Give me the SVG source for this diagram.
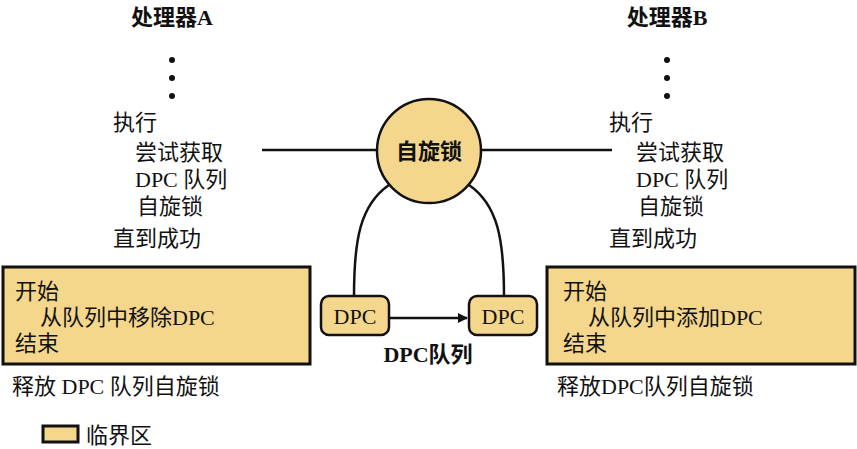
<svg xmlns="http://www.w3.org/2000/svg" width="857" height="449" viewBox="0 0 857 449">
<defs>
<style>
text{font-family:"Liberation Serif","Noto Sans CJK SC",serif;font-size:22px;fill:#111}
.b{font-weight:bold}
.fill{fill:#F4D68C;stroke:#111}
.ln{stroke:#111;stroke-width:2.5;fill:none}
</style>
<marker id="ah" markerWidth="10" markerHeight="10" refX="9" refY="5" orient="auto" markerUnits="userSpaceOnUse">
<path d="M0,0 L10,5 L0,10 z" fill="#111"/>
</marker>
</defs>
<rect width="857" height="449" fill="#fff"/>
<g id="procA">
<text class="b" x="172" y="25" text-anchor="middle" font-size="21">处理器A</text>
<circle cx="172" cy="60" r="3" fill="#111"/><circle cx="172" cy="78" r="3" fill="#111"/><circle cx="172" cy="96" r="3" fill="#111"/>
<text x="113" y="130">执行</text>
<text x="135" y="160">尝试获取</text>
<text x="135" y="187">DPC 队列</text>
<text x="137" y="214">自旋锁</text>
<text x="113" y="246">直到成功</text>
</g>
<g id="procB">
<text class="b" x="667" y="25" text-anchor="middle" font-size="21">处理器B</text>
<circle cx="667" cy="60" r="3" fill="#111"/><circle cx="667" cy="78" r="3" fill="#111"/><circle cx="667" cy="96" r="3" fill="#111"/>
<text x="609" y="130">执行</text>
<text x="636" y="160">尝试获取</text>
<text x="636" y="187">DPC 队列</text>
<text x="638" y="214">自旋锁</text>
<text x="609" y="246">直到成功</text>
</g>
<g id="connectors">
<line class="ln" x1="262" y1="150" x2="377" y2="150"/>
<line class="ln" x1="481" y1="150" x2="612" y2="150"/>
<path class="ln" d="M389,185 C360,205 354,240 354,296"/>
<path class="ln" d="M469,185 C498,205 504,240 504,296"/>
<line class="ln" x1="389" y1="318" x2="467" y2="318" marker-end="url(#ah)"/>
</g>
<g id="spinlock">
<circle class="fill" cx="429" cy="151" r="52" stroke-width="2.5"/>
<text class="b" x="429" y="159" text-anchor="middle" font-size="22">自旋锁</text>
</g>
<g id="dpc1">
<rect class="fill" x="321" y="296" width="68" height="39" rx="8" stroke-width="2.5"/>
<text x="355" y="324" text-anchor="middle" font-size="21">DPC</text>
</g>
<g id="dpc2">
<rect class="fill" x="469" y="296" width="68" height="39" rx="8" stroke-width="2.5"/>
<text x="503" y="324" text-anchor="middle" font-size="21">DPC</text>
</g>
<g id="queueLabel">
<text class="b" x="428" y="362" text-anchor="middle" font-size="21">DPC队列</text>
</g>
<g id="critA">
<rect class="fill" x="3" y="267" width="307" height="97" stroke-width="3"/>
<text x="15" y="299">开始</text>
<text x="40" y="325">从队列中移除DPC</text>
<text x="15" y="351">结束</text>
<text x="12" y="394">释放 DPC 队列自旋锁</text>
</g>
<g id="critB">
<rect class="fill" x="547" y="267" width="308" height="97" stroke-width="3"/>
<text x="563" y="299">开始</text>
<text x="588" y="325">从队列中添加DPC</text>
<text x="563" y="351">结束</text>
<text x="557" y="394">释放DPC队列自旋锁</text>
</g>
<g id="legend">
<rect class="fill" x="43" y="426" width="35" height="16" stroke-width="3"/>
<text x="86" y="443">临界区</text>
</g>
</svg>
